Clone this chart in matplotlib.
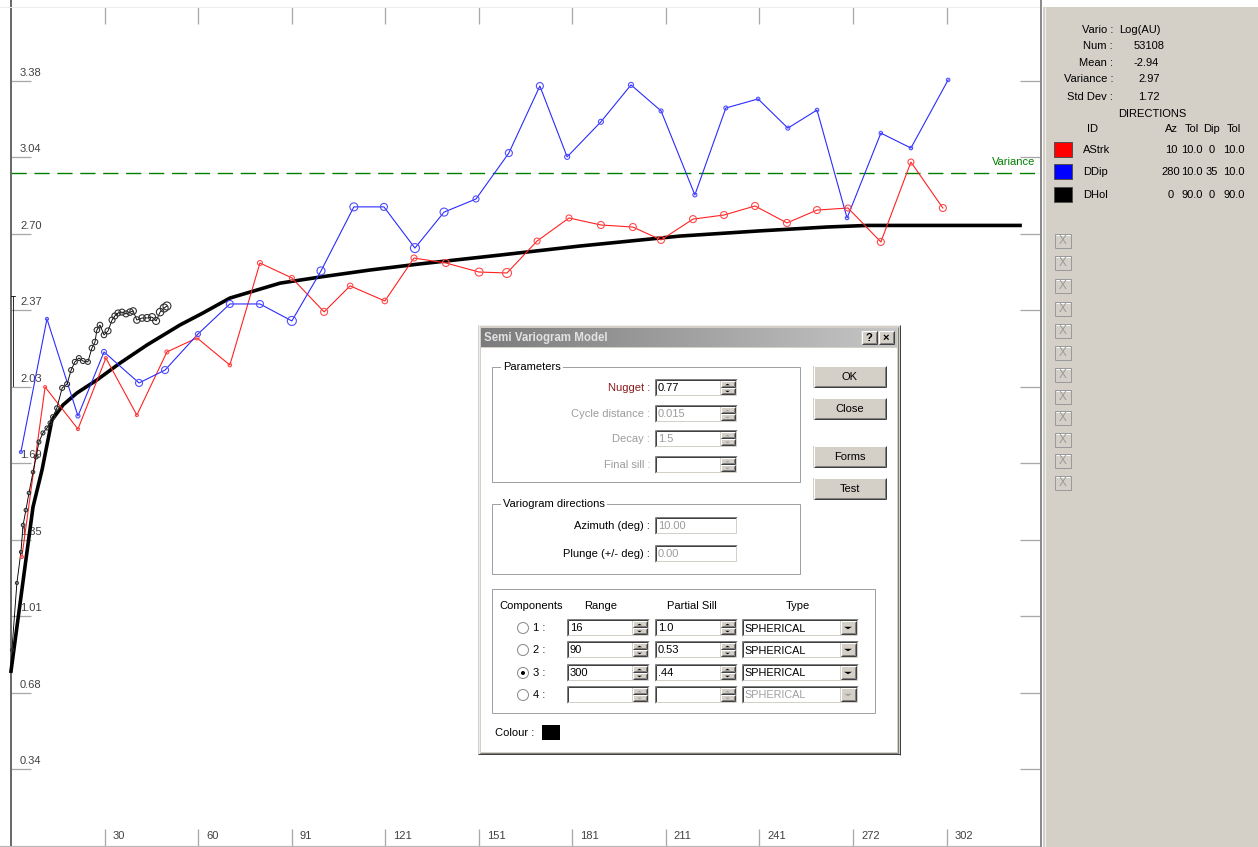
import matplotlib
matplotlib.use('Agg')
import matplotlib.pyplot as plt
import numpy as np
from matplotlib.patches import Rectangle, Polygon, Circle
from matplotlib.colors import LinearSegmentedColormap

plt.rcParams['font.family'] = ['Liberation Sans', 'DejaVu Sans']

# experimental semivariogram, direction AStrk
astrk_lag = [3.5, 11.0, 21.6, 30.6, 40.6, 50.3, 60.0, 70.6, 80.3, 90.6, 101.0, 109.4, 120.6, 130.0, 140.3, 151.0,
             160.0, 169.7, 180.0, 190.3, 200.6, 209.7, 220.0, 230.0, 240.0, 250.3, 260.0, 270.0, 280.6, 290.3, 300.6]
astrk_gam = [1.275, 2.026, 1.840, 2.154, 1.902, 2.181, 2.243, 2.123, 2.574, 2.508, 2.358, 2.473, 2.406, 2.596, 2.574,
             2.534, 2.530, 2.671, 2.773, 2.742, 2.733, 2.676, 2.768, 2.786, 2.826, 2.751, 2.808, 2.817, 2.667, 3.020, 2.817]
astrk_size = [3, 3, 3, 3, 3, 4, 4, 3.5, 5, 5, 7, 5.5, 5.5, 6, 7, 8, 9, 6, 6, 7, 7, 7, 7, 7, 7, 7, 7, 6, 7, 6, 7]

# direction DDip
ddip_lag = [3.2, 11.6, 21.6, 30.0, 41.3, 49.7, 60.3, 70.6, 80.3, 90.6, 100.0, 110.6, 120.3, 130.3, 139.7, 150.0,
            160.6, 170.6, 179.4, 190.3, 200.0, 209.7, 220.6, 230.6, 241.0, 250.6, 260.0, 269.7, 280.6, 290.3, 302.3]
ddip_gam = [1.739, 2.327, 1.898, 2.181, 2.044, 2.101, 2.260, 2.393, 2.393, 2.318, 2.539, 2.822, 2.822, 2.640, 2.799,
            2.857, 3.060, 3.356, 3.043, 3.198, 3.361, 3.246, 2.875, 3.259, 3.299, 3.170, 3.250, 2.773, 3.148, 3.082, 3.383]
ddip_size = [3, 3, 4, 5, 7, 7, 5, 7, 7, 9, 8, 8, 7, 9, 8, 6, 7, 7, 5, 5, 5, 4, 4, 4, 3.5, 4, 3.5, 3.5, 3.5, 3.5, 3.5]

# direction DHol (omni, short lags)
dhol_lag = [0.3, 1.9, 3.2, 3.9, 4.8, 5.8, 7.1, 8.1, 9.0, 10.3, 11.6, 12.6, 13.5, 14.8, 16.5, 18.1, 19.4, 20.6, 21.9,
            23.2, 24.8, 26.1, 27.1, 27.7, 28.7, 30.0, 31.3, 32.6, 33.5, 34.5, 35.8, 37.1, 38.4, 39.4, 40.6, 42.3,
            43.9, 45.5, 46.8, 48.1, 49.4, 50.3]
dhol_gam = [0.864, 1.160, 1.297, 1.416, 1.482, 1.558, 1.650, 1.717, 1.783, 1.823, 1.845, 1.867, 1.894, 1.933, 2.022,
            2.039, 2.101, 2.137, 2.154, 2.141, 2.137, 2.198, 2.225, 2.278, 2.300, 2.256, 2.274, 2.322, 2.340, 2.353,
            2.357, 2.349, 2.357, 2.362, 2.322, 2.331, 2.331, 2.335, 2.318, 2.357, 2.375, 2.384]
dhol_size = [3, 3, 3, 3.5, 3.5, 3.5, 3.5, 4, 4, 4, 4, 4, 4.5, 4.5, 5, 5, 5, 5, 5, 5, 5, 5.5, 5.5, 5.5, 5.5, 5.5,
             6, 6, 6, 6, 6, 6, 6.5, 6.5, 6.5, 6.5, 7, 7, 7, 7.5, 8, 8]
dhol_bar = [2.43, 2.03]

# fitted model (nugget 0.77, spherical components)
model_lag = [0.0, 4.2, 7.1, 10.0, 13.2, 16.8, 21.3, 27.7, 35.2, 43.9, 54.5, 61.9, 70.6, 86.8, 99.7, 115.8, 131.9,
             157.7, 183.5, 215.8, 241.6, 263.2, 276.1, 325.5]
model_gam = [0.77, 1.20, 1.496, 1.659, 1.880, 1.947, 2.000, 2.057, 2.132, 2.212, 2.300, 2.353, 2.419, 2.485, 2.512,
             2.543, 2.570, 2.609, 2.649, 2.693, 2.716, 2.733, 2.74, 2.74]

variance = 2.97
y_ticks = [0.338, 0.676, 1.014, 1.352, 1.690, 2.028, 2.366, 2.704, 3.042, 3.380]
y_labels = ['0.34', '0.68', '1.01', '1.35', '1.69', '2.03', '2.37', '2.70', '3.04', '3.38']
x_ticks = [30.18, 60.36, 90.54, 120.72, 150.9, 181.08, 211.26, 241.44, 271.62, 301.8]
x_labels = ['30', '60', '91', '121', '151', '181', '211', '241', '272', '302']

stats_names = ['Vario :', 'Num :', 'Mean :', 'Variance :', 'Std Dev :']
stats_values = ['Log(AU)', '53108', '-2.94', '2.97', '1.72']
dir_ids = ['AStrk', 'DDip', 'DHol']
dir_colors = ['#ff0000', '#0000ff', '#000000']
dir_az = ['10', '280', '0']
dir_az_tol = ['10.0', '10.0', '90.0']
dir_dip = ['0', '35', '0']
dir_dip_tol = ['10.0', '10.0', '90.0']

comp_range = ['16', '90', '300', '']
comp_sill = ['1.0', '0.53', '.44', '']

W, H = 1258, 847
PT = 0.72  # points per pixel at 100 dpi

fig = plt.figure(figsize=(W / 100, H / 100), dpi=100)
fig.patch.set_facecolor('white')

# ---------------- variogram plot ----------------
x0_px, sx = 11.0, 3.1
y0_px, sy = 845.5, 226.3
ax = fig.add_axes([0, 0, 1040 / W, 1])
ax.set_xlim(-x0_px / sx, (1040 - x0_px) / sx)
ax.set_ylim((y0_px - H) / sy, y0_px / sy)
ax.set_facecolor('white')

ax.spines['right'].set_visible(False)
ax.spines['left'].set_position(('data', 0))
ax.spines['left'].set_color('#6a6a6a')
ax.spines['left'].set_linewidth(2 * PT)
ax.spines['bottom'].set_position(('data', 0))
ax.spines['bottom'].set_color('#b8b8b8')
ax.spines['bottom'].set_linewidth(1.2 * PT)
ax.spines['top'].set_position(('data', (y0_px - 7) / sy))
ax.spines['top'].set_color('#ececec')
ax.spines['top'].set_linewidth(1 * PT)

ax.set_xticks(x_ticks)
ax.set_yticks(y_ticks)
ax.tick_params(axis='x', direction='in', length=17 * PT, width=1.3 * PT, color='#a8a8a8',
               top=True, bottom=True, labelbottom=False, labeltop=False)
ax.tick_params(axis='y', direction='in', length=20 * PT, width=1.3 * PT, color='#a8a8a8',
               left=True, right=True, labelleft=False, labelright=False)

for v, s in zip(y_ticks, y_labels):
    ax.annotate(s, xy=(0, v), xytext=(9 * PT, 3 * PT), textcoords='offset points',
                ha='left', va='bottom', fontsize=8, color='#404040')
for v, s in zip(x_ticks, x_labels):
    ax.annotate(s, xy=(v, 0), xytext=(8 * PT, 10 * PT), textcoords='offset points',
                ha='left', va='center', fontsize=8, color='#404040')

ax.plot([0, (1040 - x0_px) / sx], [variance, variance], color='#008000', lw=1.0, dashes=(11, 5.5), zorder=2)
ax.text((1035 - x0_px) / sx, variance + 11 / sy, 'Variance', ha='right', va='center', fontsize=8, color='#008000')

ax.plot([0.6, 0.6], dhol_bar, color='black', lw=0.8 * PT, zorder=3)
ax.plot([0.0, 1.2], [dhol_bar[0]] * 2, color='black', lw=0.8 * PT, zorder=3)

ax.plot(model_lag, model_gam, color='black', lw=3.6 * PT, solid_joinstyle='round', zorder=3)

ax.plot(astrk_lag, astrk_gam, color='#ff2020', lw=1.1 * PT, zorder=4)
ax.scatter(astrk_lag, astrk_gam, s=(np.array(astrk_size) * PT) ** 2, facecolors='none',
           edgecolors='#ff4a4a', linewidths=1.1 * PT, zorder=5)
ax.plot(ddip_lag, ddip_gam, color='#2a2aff', lw=1.1 * PT, zorder=4)
ax.scatter(ddip_lag, ddip_gam, s=(np.array(ddip_size) * PT) ** 2, facecolors='none',
           edgecolors='#4d4dff', linewidths=1.1 * PT, zorder=5)
ax.plot(dhol_lag, dhol_gam, color='black', lw=0.9 * PT, zorder=4)
ax.scatter(dhol_lag, dhol_gam, s=(np.array(dhol_size) * PT) ** 2, facecolors='none',
           edgecolors='#303030', linewidths=1.1 * PT, zorder=5)

# ---------------- overlay in screen pixels ----------------
ov = fig.add_axes([0, 0, 1, 1])
ov.set_xlim(0, W)
ov.set_ylim(H, 0)
ov.axis('off')
ov.patch.set_alpha(0)

FACE = '#d4d0c8'


def line(xs, ys, c, w=1, z=6):
    ov.plot(xs, ys, color=c, lw=w * PT, zorder=z, solid_capstyle='butt')


def box(x0, y0, x1, y1, fc, ec='none', w=1, z=5):
    ov.add_patch(Rectangle((x0, y0), x1 - x0, y1 - y0, facecolor=fc, edgecolor=ec, lw=w * PT, zorder=z))


def bevel(x0, y0, x1, y1, light, dark, z=6):
    line([x0, x1], [y0, y0], light, z=z)
    line([x0, x0], [y0, y1], light, z=z)
    line([x0, x1], [y1, y1], dark, z=z)
    line([x1, x1], [y0, y1], dark, z=z)


def raised(x0, y0, x1, y1, z=6):
    box(x0, y0, x1, y1, FACE, z=z)
    bevel(x0 + 0.5, y0 + 0.5, x1 - 0.5, y1 - 0.5, 'white', '#404040', z + 1)
    bevel(x0 + 1.5, y0 + 1.5, x1 - 1.5, y1 - 1.5, FACE, '#808080', z + 1)


def sunken(x0, y0, x1, y1, fc='white', z=6):
    box(x0, y0, x1, y1, fc, z=z)
    bevel(x0 + 0.5, y0 + 0.5, x1 - 0.5, y1 - 0.5, '#808080', 'white', z + 1)
    bevel(x0 + 1.5, y0 + 1.5, x1 - 1.5, y1 - 1.5, '#404040', FACE, z + 1)


def tri(cx, cy, up, half, c, z=9):
    h = half * 0.6
    if up:
        pts = [(cx - half, cy + h / 2), (cx + half, cy + h / 2), (cx, cy - h / 2)]
    else:
        pts = [(cx - half, cy - h / 2), (cx + half, cy - h / 2), (cx, cy + h / 2)]
    ov.add_patch(Polygon(pts, closed=True, facecolor=c, edgecolor='none', zorder=z))


def txt(x, y, s, ha='left', c='black', size=8, **kw):
    ov.text(x, y, s, ha=ha, va='center', color=c, fontsize=size, zorder=20, **kw)


def spinner(x0, y0, x1, y1, enabled=True):
    mid = (y0 + y1) / 2
    raised(x0, y0, x1, mid, z=8)
    raised(x0, mid, x1, y1, z=8)
    c = 'black' if enabled else '#a0a0a0'
    tri((x0 + x1) / 2, (y0 + mid) / 2, True, 2.5, c, z=10)
    tri((x0 + x1) / 2, (mid + y1) / 2, False, 2.5, c, z=10)


def field(x0, y0, x1, y1, s, tc='black', spin=True, enabled=True):
    sunken(x0, y0, x1, y1)
    if spin:
        spinner(x1 - 17, y0 + 2, x1 - 2, y1 - 2, enabled)
    txt(x0 + 4, (y0 + y1) / 2, s, c=tc)


def button(x0, y0, x1, y1, s, **kw):
    raised(x0, y0, x1, y1)
    txt((x0 + x1) / 2, (y0 + y1) / 2, s, ha='center', **kw)


def group(x0, y0, x1, y1, label=None):
    box(x0 + 1, y0 + 1, x1 + 1, y1 + 1, 'none', ec='white', z=5)
    box(x0, y0, x1, y1, 'none', ec='#a0a0a0', z=5)
    if label:
        ov.text(x0 + 11, y0, label, ha='left', va='center', fontsize=8, zorder=20,
                bbox=dict(facecolor='white', edgecolor='none', pad=1.5))


def combo(x0, y0, x1, y1, s, enabled=True):
    sunken(x0, y0, x1, y1)
    raised(x1 - 18, y0 + 2, x1 - 2, y1 - 2, z=8)
    tri(x1 - 10, (y0 + y1) / 2, False, 4, 'black' if enabled else '#a0a0a0', z=10)
    txt(x0 + 3, (y0 + y1) / 2 + 0.5, s, c='black' if enabled else '#a0a0a0', size=7.8)


def radio(cx, cy, checked):
    ov.add_patch(Circle((cx, cy), 5.5, facecolor='white', edgecolor='#8a8a8a', lw=1 * PT, zorder=8))
    if checked:
        ov.add_patch(Circle((cx, cy), 2, facecolor='black', edgecolor='none', zorder=9))


# side panel with the statistics and direction list
box(1043, 7, W, H, FACE, z=2)
line([1041, 1041], [0, H], '#8c8c8c', w=2, z=3)
line([1044.5, 1044.5], [7, H], '#f0f0f0', w=1, z=3)

for i, (n, v) in enumerate(zip(stats_names, stats_values)):
    y = [30, 46, 63, 79, 97][i]
    txt(1113, y, n, ha='right')
    txt([1119, 1134, 1134, 1138, 1138][i], y, v)
txt(1152, 114, 'DIRECTIONS', ha='center')
txt(1087, 129, 'ID')
for x, s in zip([1171, 1192, 1212, 1234], ['Az', 'Tol', 'Dip', 'Tol']):
    txt(x, 129, s, ha='center')

for i in range(len(dir_ids)):
    yc = [150, 172, 195][i]
    box(1054, yc - 8, 1072, yc + 7, dir_colors[i], ec='#505050', z=6)
    txt(1083, yc, dir_ids[i])
    txt(1171, yc, dir_az[i], ha='center')
    txt(1192, yc, dir_az_tol[i], ha='center')
    txt(1212, yc, dir_dip[i], ha='center')
    txt(1234, yc, dir_dip_tol[i], ha='center')

for yc in [241, 263, 286, 309, 331, 353, 375, 397, 418, 440, 461, 483]:
    box(1055, yc - 7, 1071, yc + 7, FACE, ec='#9a9a9a', z=6)
    line([1056, 1070], [yc - 6, yc - 6], 'white', z=7)
    txt(1063, yc, 'X', ha='center', c='#9a9a9a', size=8.5)

# model dialog
box(478, 325, 900, 755, FACE, z=4)
line([478.5, 478.5], [325, 755], '#ececec', z=5)
line([478, 900], [325.5, 325.5], '#ececec', z=5)
line([899.5, 899.5], [325, 755], '#404040', w=1, z=5)
line([478, 900], [754.5, 754.5], '#404040', w=1, z=5)
line([898, 898], [327, 753], '#808080', w=1, z=5)
line([480, 898], [753, 753], '#808080', w=1, z=5)
box(481, 348, 897, 752, 'white', z=4.5)

grad = np.linspace(0, 1, 256).reshape(1, -1)
ov.imshow(grad, cmap=LinearSegmentedColormap.from_list('title', ['#7c7c7c', '#c6c6c6']),
          extent=(481, 897, 347, 328), aspect='auto', zorder=5)
ov.set_xlim(0, W)
ov.set_ylim(H, 0)
txt(484, 338, 'Semi Variogram Model', c='#e2e2e2', size=8.3, fontweight='bold')
button(861, 331, 877, 345, '?', fontweight='bold')
button(878, 331, 894, 345, '×', fontweight='bold')

group(492, 367, 800, 482, 'Parameters')
txt(650, 388, 'Nugget :', ha='right', c='#8b1a1a')
field(654, 379, 737, 397, '0.77')
txt(650, 414, 'Cycle distance :', ha='right', c='#9c9c9c')
field(654, 405, 737, 423, '0.015', tc='#9c9c9c', enabled=False)
txt(650, 439, 'Decay :', ha='right', c='#9c9c9c')
field(654, 430, 737, 448, '1.5', tc='#9c9c9c', enabled=False)
txt(650, 465, 'Final sill :', ha='right', c='#9c9c9c')
field(654, 456, 737, 474, '', enabled=False)

button(813, 366, 886, 388, 'OK')
button(813, 398, 886, 420, 'Close')
button(813, 446, 886, 468, 'Forms')
button(813, 478, 886, 500, 'Test')

group(492, 504, 800, 574, 'Variogram directions')
txt(650, 526, 'Azimuth (deg) :', ha='right')
field(654, 517, 737, 535, '10.00', tc='#9c9c9c', spin=False)
txt(650, 554, 'Plunge (+/- deg) :', ha='right')
field(654, 545, 737, 563, '0.00', tc='#9c9c9c', spin=False)

group(492, 589, 875, 713)
txt(531, 606, 'Components', ha='center')
txt(601, 606, 'Range', ha='center')
txt(692, 606, 'Partial Sill', ha='center')
txt(798, 606, 'Type', ha='center')
for i in range(4):
    y0 = [619, 641, 664, 686][i]
    y1 = y0 + 18
    yc = (y0 + y1) / 2
    radio(523, yc, i == 2)
    txt(533, yc, f'{i + 1} :')
    field(566, y0, 649, y1, comp_range[i], enabled=(i < 3))
    field(654, y0, 737, y1, comp_sill[i], enabled=(i < 3))
    combo(741, y0, 858, y1, 'SPHERICAL', enabled=(i < 3))

txt(495, 733, 'Colour :')
box(542, 725, 560, 740, 'black', z=6)

fig.savefig('out.png', dpi=100, facecolor='white')
